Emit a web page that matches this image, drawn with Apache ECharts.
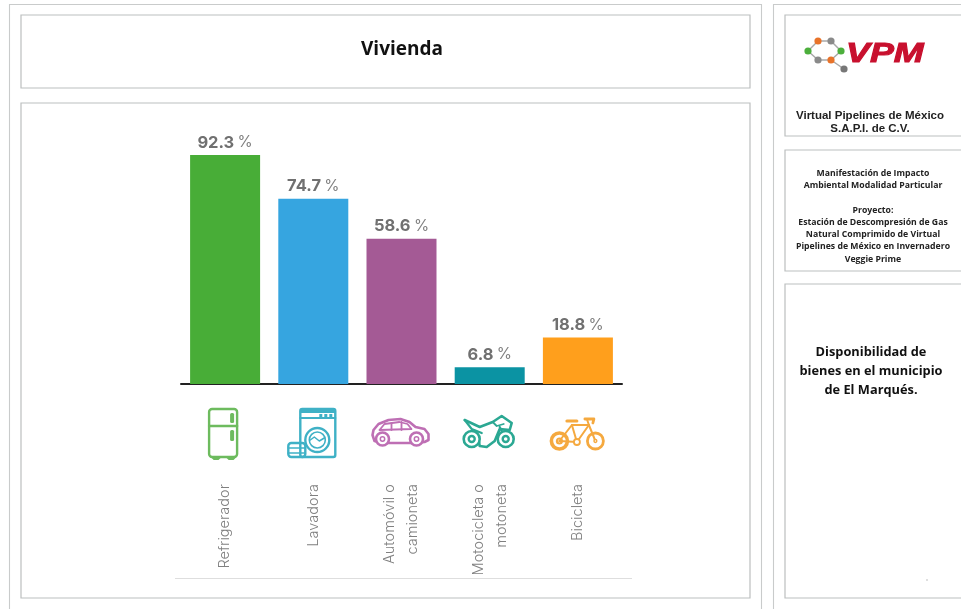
<!DOCTYPE html>
<html><head><meta charset="utf-8">
<style>html,body{margin:0;padding:0;background:#fff}#c{width:961px;height:609px}</style>
<script src="https://cdn.jsdelivr.net/npm/echarts@6/dist/echarts.min.js"></script>
</head><body><div id="c"></div>
<script>
var categories = ['Refrigerador','Lavadora','Automóvil o\ncamioneta','Motocicleta o\nmotoneta','Bicicleta'];
var values = [92.3,74.7,58.6,6.8,18.8];
var barColors = ['#48AD37','#36A5E0','#A45A95','#0B93A3','#FF9F1C'];
var iconColors = ['#6DBB5E','#3FB1C6','#BE6FB4','#2BA893','#F5A93F'];

function L(pts,c,w){return {type:'polyline',shape:{points:pts},style:{fill:null,stroke:c,lineWidth:w||2,lineJoin:'round',lineCap:'round'}};}
function R(x,y,w,h,c,lw,r){return {type:'rect',shape:{x:x,y:y,width:w,height:h,r:r||0},style:{fill:null,stroke:c,lineWidth:lw||2}};}
function RF(x,y,w,h,c,r){return {type:'rect',shape:{x:x,y:y,width:w,height:h,r:r||0},style:{fill:c}};}
function C(x,y,r,c,lw){return {type:'circle',shape:{cx:x,cy:y,r:r},style:{fill:'#fff',stroke:c,lineWidth:lw||2}};}

var iconBuilders = [
 function(c){return [R(-16,-24,28,48,c,2.4,3),L([[-16,-7],[12,-7]],c,2.4),RF(5,-20,4,10,c,1.5),RF(5,-3,4,11,c,1.5),L([[-13,24],[-11,26],[-7,26],[-5,24]],c,2),L([[2,24],[4,26],[8,26],[10,24]],c,2)];},
 function(c){return [R(-13,-24,35,48,c,2.4,2),RF(-13,-24,35,4,c),L([[-13,-15],[22,-15]],c,2),RF(6,-19,3,3,c),RF(11,-19,3,3,c),RF(16,-19,3,3,c),C(4,7,12,c,2.4),C(4,7,8,c,1.6),L([[-3,7],[1,4],[6,8],[11,5]],c,1.5),R(-25,10,17,14,c,2.4,3),L([[-25,15],[-8,15]],c,1.6),L([[-25,20],[-8,20]],c,1.6)];},
 function(c){return [L([[-19,10],[-27,8],[-29,2],[-28,-3],[-23,-9],[-13,-13],[-1,-14],[8,-11],[14,-6],[23,-4],[27,1],[27,7],[23,9],[15,10],[-19,10]],c,2.6),L([[-22,-3],[-17,-9],[-2,-11],[6,-9],[10,-4],[-22,-3]],c,1.8),L([[-10,-10],[-10,-3]],c,1.8),L([[0,-11],[0,-3]],c,1.8),C(-19,6,6.5,c,2.6),C(15,6,6.5,c,2.6),C(-19,6,2.2,c,1.5),C(15,6,2.2,c,1.5)];},
 function(c){return [L([[-25,-13],[-10,-6],[3,-11],[12,-17],[22,-10],[20,-3],[10,-4],[5,8],[-3,14],[-10,13],[-12,2],[-18,6]],c,2.6),L([[-25,-13],[-18,-4],[-8,0]],c,2.2),L([[10,-6],[16,6]],c,2.2),L([[3,-11],[7,-7],[14,-9]],c,1.8),C(-18,6,8,c,2.6),C(16,6,8,c,2.6),C(-18,6,3,c,2.4),C(16,6,3,c,2.4)];},
 function(c){return [C(-18.5,8,8,c,3.6),C(17.5,8,8,c,2.8),C(-18.5,8,2.5,c,2.2),L([[-18.5,8],[-1,9],[-6,-8],[11,-8],[-1,9]],c,2),L([[-18.5,8],[-6,-8]],c,2),L([[11,-8],[17.5,8]],c,2),L([[11,-8],[9,-14]],c,2),L([[-11,-12],[-1,-12]],c,3),L([[7,-14],[16,-14],[15,-10]],c,2.8),C(-1,9,3,c,1.8),C(17.5,8,1.4,c,1.5)];}
];

function renderIcon(params,api){
  var i=api.value(0);
  var p=api.coord([i,0]);
  return {type:'group',x:p[0],y:p[1]+49,children:iconBuilders[i](iconColors[i])};
}

function frame(x,y,w,h,c,lw){return {type:'rect',silent:true,z:0,shape:{x:x,y:y,width:w,height:h},style:{fill:'#fff',stroke:c||'#BCBFBF',lineWidth:lw||1.2}};}
function txt(x,y,t,font,fill,lh){return {type:'text',silent:true,z:5,x:x,y:y,style:{text:t,font:font,fill:fill||'#111',align:'center',verticalAlign:'top',lineHeight:lh}};}

var nodes=[[808,51],[818,41],[831,41],[841,51],[831,60],[818,60],[844,69]];
var nodeCol=['#4CAF3C','#E8732A','#8A8A8A','#4CAF3C','#E8732A','#8A8A8A','#777'];
var logo=[];
[[0,1],[1,2],[2,3],[3,4],[4,5],[5,0],[4,6]].forEach(function(e){
  logo.push({type:'line',silent:true,z:4,shape:{x1:nodes[e[0]][0],y1:nodes[e[0]][1],x2:nodes[e[1]][0],y2:nodes[e[1]][1]},style:{stroke:'#a8a8a8',lineWidth:1.5}});
});
nodes.forEach(function(n,i){logo.push({type:'circle',silent:true,z:5,shape:{cx:n[0],cy:n[1],r:3.6},style:{fill:nodeCol[i]}});});

var chart=echarts.init(document.getElementById('c'),null,{renderer:'canvas'});
chart.setOption({
  animation:false,
  backgroundColor:'#fff',
  grid:{left:181,right:339,top:136,bottom:225},
  xAxis:{type:'category',data:categories,
    axisLine:{lineStyle:{color:'#222',width:2}},axisTick:{show:false},
    axisLabel:{rotate:90,margin:100,interval:0,color:'#808080',fontFamily:'Inter',fontWeight:300,fontSize:14.6,lineHeight:23,align:'right',verticalAlign:'middle',padding:[0,0,4,0]}},
  yAxis:{type:'value',min:0,max:100,show:false,splitLine:{show:false}},
  series:[
   {type:'bar',barWidth:70,z:3,
    data:values.map(function(v,i){return {value:v,itemStyle:{color:barColors[i]}};}),
    label:{show:true,position:'top',distance:4,formatter:function(p){return '{n|'+p.value.toFixed(1)+'} {u|%}';},
      rich:{n:{fontFamily:'Inter',fontWeight:'bold',fontSize:16.5,color:'#707070'},u:{fontFamily:'Inter',fontWeight:'normal',fontSize:15.5,color:'#808080'}}}},
   {type:'custom',z:4,clip:false,renderItem:renderIcon,silent:true,encode:{x:0,y:1},
    data:categories.map(function(c,i){return [i,0];})}
  ],
  graphic:[
    frame(9.5,4.5,752,612,'#C9CBCB',1.1),
    frame(21,15,729,73),
    frame(21,103,729,495),
    frame(773.5,4.5,200,612,'#C9CBCB',1.1),
    frame(785,15,190,121),
    frame(785,150,190,121),
    frame(785,284,190,314),
    {type:'line',silent:true,z:1,shape:{x1:175,y1:578.5,x2:632,y2:578.5},style:{stroke:'#DEDEDE',lineWidth:1}},
    {type:'circle',silent:true,z:1,shape:{cx:927,cy:580,r:1},style:{fill:'#d5d5d5'}},
    txt(402,40,'Vivienda','bold 19px "Open Sans"','#111'),
    {type:'text',silent:true,z:5,x:846,y:40,scaleX:1.28,style:{text:'VPM',font:'italic bold 28px "Liberation Sans"',fill:'#C8102E',stroke:'#C8102E',lineWidth:1}},
    txt(870,109,'Virtual Pipelines de México\nS.A.P.I. de C.V.','bold 11.5px "Liberation Sans"','#222',13),
    txt(873,167,'Manifestación de Impacto\nAmbiental Modalidad Particular\n\nProyecto:\nEstación de Descompresión de Gas\nNatural Comprimido de Virtual\nPipelines de México en Invernadero\nVeggie Prime','bold 8.7px "Open Sans"','#222',12.3),
    txt(871,343,'Disponibilidad de\nbienes en el municipio\nde El Marqués.','bold 12.8px "Open Sans"','#111',19)
  ].concat(logo)
});
</script></body></html>
